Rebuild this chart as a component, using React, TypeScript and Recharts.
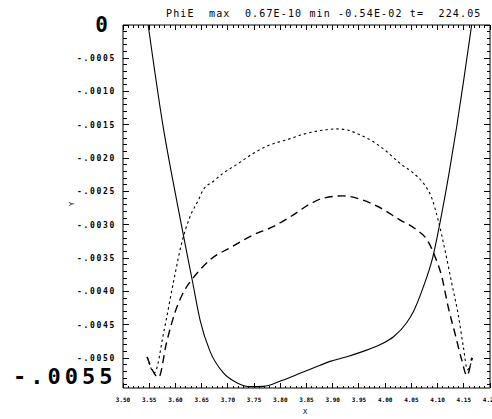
import React from 'react';
import { LineChart, Line, XAxis, YAxis } from 'recharts';

// solid curve
const solidX = [3.548, 3.576, 3.604, 3.618, 3.633, 3.647, 3.666, 3.691, 3.717, 3.742, 3.768, 3.799, 3.831, 3.863, 3.895, 3.927, 3.958, 3.99, 4.016, 4.041, 4.054, 4.072, 4.091, 4.108, 4.122, 4.136, 4.15, 4.165];
const solidY = [0, -0.0015, -0.0027, -0.00327, -0.00387, -0.00443, -0.0049, -0.00522, -0.00537, -0.00543, -0.005425, -0.00535, -0.00525, -0.00515, -0.00505, -0.00498, -0.0049, -0.0048, -0.00468, -0.00447, -0.0043, -0.00395, -0.00348, -0.00283, -0.00222, -0.00155, -0.00082, 0];

// short-dash curve
const dottedX = [3.546, 3.56, 3.578, 3.596, 3.612, 3.628, 3.644, 3.653, 3.672, 3.691, 3.716, 3.749, 3.78, 3.812, 3.844, 3.876, 3.908, 3.927, 3.952, 3.977, 4.003, 4.028, 4.054, 4.073, 4.089, 4.101, 4.114, 4.127, 4.14, 4.149, 4.157, 4.168];
const dottedY = [-0.004985, -0.00522, -0.0046, -0.00387, -0.00327, -0.002875, -0.002625, -0.002475, -0.00235, -0.002225, -0.0021, -0.001925, -0.0018, -0.001725, -0.00164, -0.001585, -0.00156, -0.001575, -0.00165, -0.00175, -0.0019, -0.002075, -0.002225, -0.002375, -0.0026, -0.002925, -0.003375, -0.003875, -0.004375, -0.004825, -0.005175, -0.004965];

// long-dash curve
const dashedX = [3.546, 3.568, 3.583, 3.599, 3.618, 3.631, 3.647, 3.666, 3.704, 3.749, 3.787, 3.825, 3.857, 3.882, 3.92, 3.952, 3.986, 4.028, 4.06, 4.082, 4.095, 4.108, 4.12, 4.133, 4.146, 4.156, 4.165];
const dashedY = [-0.004985, -0.00529, -0.00477, -0.00432, -0.003975, -0.003825, -0.003675, -0.003525, -0.003345, -0.00315, -0.003025, -0.00285, -0.002685, -0.0026, -0.002565, -0.002615, -0.002725, -0.002925, -0.003075, -0.00325, -0.003475, -0.003775, -0.004225, -0.004625, -0.005025, -0.005265, -0.004995];

const titleText = 'PhiE  max  0.67E-10 min -0.54E-02 t=  224.05';

const X_DOMAIN: [number, number] = [3.5, 4.2];
const Y_DOMAIN: [number, number] = [-0.00545, 0];

// minor ticks every 0.01 in x and 0.0001 in y
const xTicks = Array.from({ length: 71 }, (_, i) => +(3.5 + i * 0.01).toFixed(2));
const yTicks = Array.from({ length: 55 }, (_, i) => +(-i * 0.0001).toFixed(4));

const pts = (xs: number[], ys: number[]) => xs.map((x, i) => ({ x, y: ys[i] }));
const solid = pts(solidX, solidY);
const dotted = pts(dottedX, dottedY);
const dashed = pts(dashedX, dashedY);

const FONT = '"DejaVu Sans Mono", monospace';
const isMajorX = (v: number) => Math.round(v * 100) % 5 === 0;
const isMajorY = (v: number) => Math.round(-v * 10000) % 5 === 0;
const fmtY = (v: number) => v.toFixed(4).replace('-0.', '-.');

const BottomTick = ({ x, y, payload }: any) => {
  const major = isMajorX(payload.value);
  return (
    <g>
      <line x1={x} x2={x} y1={y} y2={y - (major ? 5 : 2.5)} stroke="#000" shapeRendering="crispEdges" />
      {major && (
        <text x={x} y={y + 14} textAnchor="middle" fontSize={6} fontWeight="bold" fontFamily={FONT} fill="#000">
          {payload.value.toFixed(2)}
        </text>
      )}
    </g>
  );
};

const TopTick = ({ x, y, payload }: any) => {
  const major = isMajorX(payload.value);
  return <line x1={x} x2={x} y1={y} y2={y + (major ? 4.5 : 2.5)} stroke="#000" shapeRendering="crispEdges" />;
};

const LeftTick = ({ x, y, payload }: any) => {
  const v = payload.value;
  const major = isMajorY(v);
  return (
    <g>
      <line x1={x} x2={x + (major ? 6 : 3.5)} y1={y} y2={y} stroke="#000" shapeRendering="crispEdges" />
      {major && v !== 0 && (
        <text x={x - 7} y={y + 2.8} textAnchor="end" fontSize={8} fontWeight="bold" letterSpacing={1.7} fontFamily={FONT} fill="#000">
          {fmtY(v)}
        </text>
      )}
    </g>
  );
};

const RightTick = ({ x, y, payload }: any) => {
  const major = isMajorY(payload.value);
  return <line x1={x} x2={x - (major ? 6 : 3.5)} y1={y} y2={y} stroke="#000" shapeRendering="crispEdges" />;
};

export default function App() {
  return (
    <div style={{ position: 'absolute', left: 0, top: 0, width: 492, height: 419, background: '#fff' }}>
      <LineChart width={492} height={419} margin={{ top: 24, right: 1, bottom: 30, left: 122 }}>
        <XAxis dataKey="x" type="number" domain={X_DOMAIN} allowDataOverflow ticks={xTicks} interval={0}
          height={1} tickSize={0} tickMargin={0} tick={<BottomTick />} axisLine={{ stroke: '#000' }} />
        <XAxis xAxisId="top" orientation="top" dataKey="x" type="number" domain={X_DOMAIN} allowDataOverflow
          ticks={xTicks} interval={0} height={1} tickSize={0} tickMargin={0} tick={<TopTick />} axisLine={{ stroke: '#000' }} />
        <YAxis type="number" domain={Y_DOMAIN} allowDataOverflow ticks={yTicks} interval={0}
          width={1} tickSize={0} tickMargin={0} tick={<LeftTick />} axisLine={{ stroke: '#000' }} />
        <YAxis yAxisId="right" orientation="right" type="number" domain={Y_DOMAIN} allowDataOverflow ticks={yTicks}
          interval={0} width={1} tickSize={0} tickMargin={0} tick={<RightTick />} axisLine={{ stroke: '#000' }} />
        <Line data={solid} dataKey="y" type="monotone" stroke="#000" strokeWidth={1.1} dot={false} isAnimationActive={false} />
        <Line data={dotted} dataKey="y" type="monotone" stroke="#000" strokeWidth={1.1} strokeDasharray="2.5 3" dot={false} isAnimationActive={false} />
        <Line data={dashed} dataKey="y" type="monotone" stroke="#000" strokeWidth={1.4} strokeDasharray="8 5" dot={false} isAnimationActive={false} />
      </LineChart>
      <svg width={492} height={419} style={{ position: 'absolute', left: 0, top: 0, pointerEvents: 'none' }}>
        <text x={166} y={17} fontSize={10} letterSpacing={1.15} fontFamily={FONT} fill="#000" style={{ whiteSpace: 'pre' }}>
          {titleText}
        </text>
        <text x={108} y={32} textAnchor="end" fontSize={21} fontWeight="bold" fontFamily={FONT} fill="#000">0</text>
        <text x={13} y={384} fontSize={22} fontWeight="bold" letterSpacing={4} fontFamily={FONT} fill="#000">-.0055</text>
        <text x={305} y={414} textAnchor="middle" fontSize={7} fontFamily={FONT} fill="#000">X</text>
        <text x={74} y={204} textAnchor="middle" fontSize={7} fontFamily={FONT} fill="#000" transform="rotate(-90 74 204)">Y</text>
      </svg>
    </div>
  );
}
